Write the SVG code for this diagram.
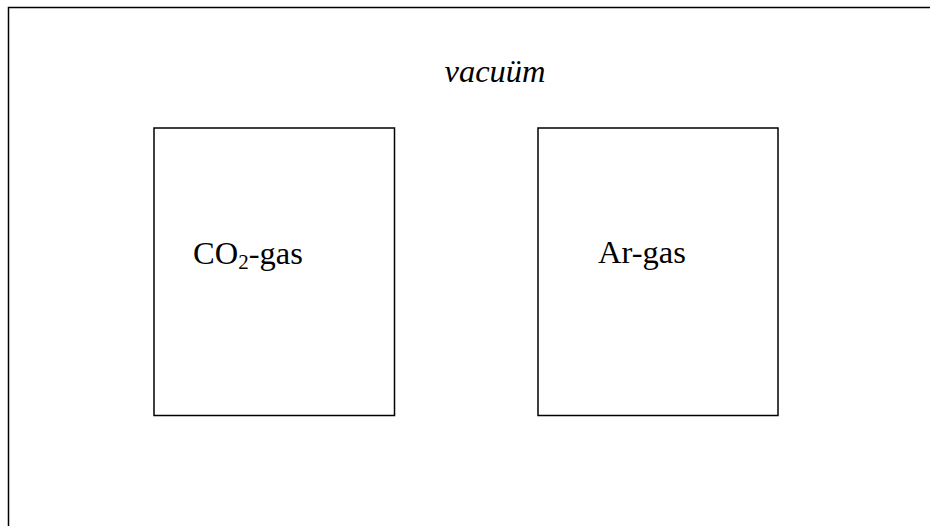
<svg xmlns="http://www.w3.org/2000/svg" width="930" height="526" viewBox="0 0 930 526">
<style>
.box{fill:none;stroke:#000;stroke-width:1.5}
.t{font-family:"Liberation Serif","Times New Roman",serif;font-size:32.5px;fill:#000}
</style>
<rect width="930" height="526" fill="#fff"/>
<g id="vacuum">
<path class="box" d="M8.5,540 V7.5 H940" stroke-width="2"/>
<text class="t" x="495" y="82" text-anchor="middle" font-style="italic" font-size="35">vacuüm</text>
</g>
<g id="co2">
<rect class="box" x="154" y="128" width="240.5" height="287.5"/>
<text class="t" x="193" y="264">CO<tspan font-size="21" dy="5">2</tspan><tspan dy="-5">-gas</tspan></text>
</g>
<g id="ar">
<rect class="box" x="538" y="128" width="240" height="287.5"/>
<text class="t" x="598" y="263">Ar-gas</text>
</g>
<g id="connectors"/>
</svg>
